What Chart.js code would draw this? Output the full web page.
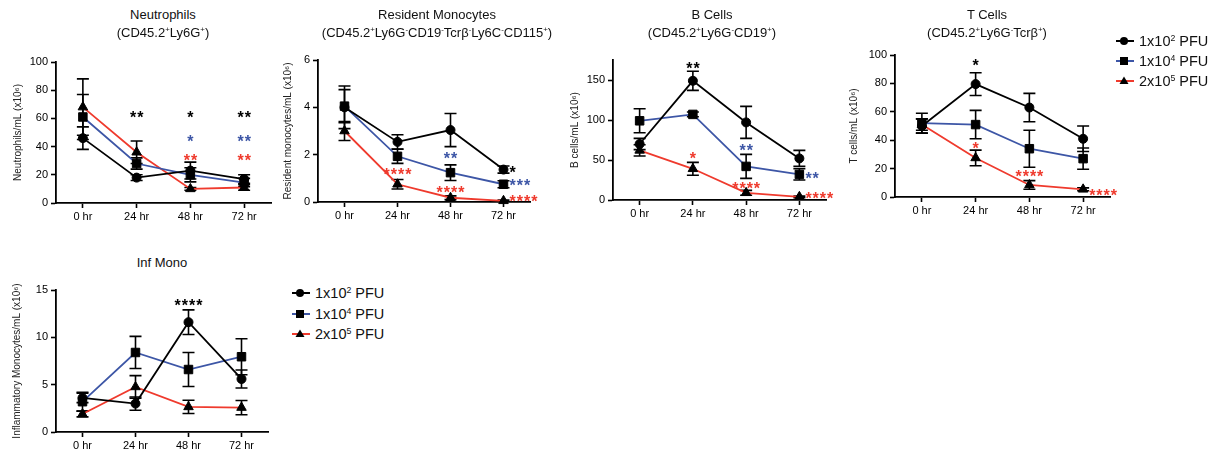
<!DOCTYPE html>
<html><head><meta charset="utf-8">
<script src="https://cdn.jsdelivr.net/npm/chart.js@4.4.1/dist/chart.umd.min.js"></script>
<style>
html,body{margin:0;padding:0;background:#fff;}
body{width:1220px;height:457px;position:relative;overflow:hidden;font-family:'Liberation Sans',Arial,Helvetica,sans-serif;color:#000;}
canvas{position:absolute;}
.t{position:absolute;width:340px;text-align:center;font-size:13px;line-height:16px;white-space:nowrap;color:#111;}
sup{font-size:0.6em;vertical-align:0.6em;line-height:0;}
.lt{position:absolute;font-size:14.5px;line-height:18px;white-space:nowrap;color:#111;}
.ls{position:absolute;}
</style></head><body>
<canvas id="c1"></canvas><canvas id="c2"></canvas><canvas id="c3"></canvas><canvas id="c4"></canvas><canvas id="c5"></canvas>
<div id="titles"></div><div id="legends"></div>
<script>
// ---------- data ----------
const categories = ['0 hr', '24 hr', '48 hr', '72 hr'];
const seriesNames = ['1x10<sup>2</sup> PFU', '1x10<sup>4</sup> PFU', '2x10<sup>5</sup> PFU'];

// Neutrophils
const neutrophilsLow = [46, 18, 23, 17];
const neutrophilsLowErr = [8, 2, 6, 3];
const neutrophilsMid = [61, 28, 20, 14.5];
const neutrophilsMidErr = [16, 4, 5, 3];
const neutrophilsHigh = [68, 36, 10, 11];
const neutrophilsHighErr = [20, 8, 1, 2];
const neutrophilsStars = [[1, 63, '**', 0, 'c'], [2, 63, '*', 0, 'c'], [2, 46, '*', 1, 'c'], [2, 33, '**', 2, 'c'], [3, 63, '**', 0, 'c'], [3, 46, '**', 1, 'c'], [3, 33, '**', 2, 'c']];

// Resident monocytes
const residentLow = [4.0, 2.54, 3.04, 1.37];
const residentLowErr = [0.9, 0.3, 0.7, 0.15];
const residentMid = [4.05, 1.93, 1.24, 0.75];
const residentMidErr = [0.7, 0.3, 0.33, 0.15];
const residentHigh = [3.0, 0.75, 0.18, 0.05];
const residentHighErr = [0.4, 0.2, 0.08, 0.03];
const residentStars = [[1, 1.31, '****', 2, 'c'], [2, 2.0, '**', 1, 'c'], [2, 0.56, '****', 2, 'c'], [3, 1.4, '*', 0, 'r'], [3, 0.85, '***', 1, 'r'], [3, 0.2, '****', 2, 'r']];

// B cells
const bLow = [70, 149, 97, 52];
const bLowErr = [7, 12, 20, 10];
const bMid = [99, 107, 42, 32];
const bMidErr = [15, 3, 15, 7];
const bHigh = [62, 39, 9, 4];
const bHighErr = [7, 8, 3, 1];
const bStars = [[1, 169, '**', 0, 'c'], [1, 56, '*', 2, 'c'], [2, 66, '**', 1, 'c'], [2, 19.5, '****', 2, 'c'], [3, 32, '**', 1, 'r'], [3, 6, '****', 2, 'r']];

// T cells
const tLow = [50, 79.5, 63, 41];
const tLowErr = [5, 8, 10, 9];
const tMid = [52, 51, 34, 27];
const tMidErr = [7, 10, 13, 7.5];
const tHigh = [51, 27.5, 8.5, 5.4];
const tHighErr = [4, 5.5, 3, 1];
const tStars = [[1, 95, '*', 0, 'c'], [1, 37, '*', 2, 'c'], [2, 17, '****', 2, 'c'], [3, 4, '****', 2, 'r']];

// Inflammatory monocytes
const infLow = [3.6, 3.0, 11.6, 5.6];
const infLowErr = [0.5, 0.7, 1.3, 0.95];
const infMid = [3.2, 8.4, 6.6, 7.95];
const infMidErr = [1.0, 1.7, 1.8, 1.9];
const infHigh = [1.9, 4.76, 2.65, 2.58];
const infHighErr = [0.3, 1.2, 0.7, 0.75];
const infStars = [[2, 13.8, '****', 0, 'c']];

// ---------- styling ----------
const FONT = "'Liberation Sans', Arial, Helvetica, sans-serif";
const colors = ['#000000', '#3d56a6', '#ef3a2d'];
const pStyles = ['circle', 'rect', 'triangle'];
const pRadii = [4.5, 6, 5.5];

const extrasPlugin = {
  id: 'extras',
  beforeDatasetsDraw(chart) {
    const ctx = chart.ctx, xs = chart.scales.x, ys = chart.scales.y;
    ctx.save();
    ctx.strokeStyle = '#000'; ctx.lineWidth = 1.6;
    chart.data.datasets.forEach(ds => {
      ds.data.forEach((v, i) => {
        const e = ds.errors[i];
        const px = xs.getPixelForValue(i);
        const top = ys.getPixelForValue(v + e);
        const bot = ys.getPixelForValue(Math.max(v - e, ys.min));
        ctx.beginPath();
        ctx.moveTo(px, top); ctx.lineTo(px, bot);
        ctx.moveTo(px - 6, top); ctx.lineTo(px + 6, top);
        ctx.moveTo(px - 6, bot); ctx.lineTo(px + 6, bot);
        ctx.stroke();
      });
    });
    ctx.restore();
  },
  afterDraw(chart) {
    const stars = chart.options.plugins.extras.stars || [];
    const ctx = chart.ctx, xs = chart.scales.x, ys = chart.scales.y;
    ctx.save();
    const size = 16;
    ctx.font = 'bold ' + size + 'px ' + FONT;
    ctx.letterSpacing = '1px';
    ctx.textBaseline = 'alphabetic';
    stars.forEach(s => {
      let px = xs.getPixelForValue(s[0]);
      const py = ys.getPixelForValue(s[1]) + 0.58 * size;
      ctx.fillStyle = colors[s[3]];
      if (s[4] === 'r') { ctx.textAlign = 'left'; px += 6; }
      else { ctx.textAlign = 'center'; px += 0.5; }
      ctx.fillText(s[2], px, py);
    });
    ctx.restore();
  }
};

function makePanel(id, box, area, ymax, ystep, ytitle, titlePad, series, errs, stars, tickFilter) {
  const cv = document.getElementById(id);
  cv.width = box.w; cv.height = box.h;
  cv.style.left = box.x + 'px'; cv.style.top = box.y + 'px';
  cv.style.width = box.w + 'px'; cv.style.height = box.h + 'px';
  const yW = area.l - box.x;
  const xH = box.y + box.h - area.b;
  new Chart(cv, {
    type: 'line',
    data: {
      labels: categories,
      datasets: series.map((d, k) => ({
        data: d, errors: errs[k],
        borderColor: colors[k], borderWidth: 1.8,
        pointStyle: pStyles[k], pointRadius: pRadii[k],
        pointBackgroundColor: '#000', pointBorderColor: '#000', pointBorderWidth: 1,
        tension: 0, clip: false, fill: false
      }))
    },
    options: {
      responsive: false, animation: false, devicePixelRatio: 1,
      layout: { padding: { left: 0, top: area.t - box.y, right: box.x + box.w - area.r, bottom: 0 } },
      plugins: { legend: { display: false }, tooltip: { enabled: false }, extras: { stars } },
      scales: {
        x: {
          type: 'category', offset: true,
          grid: { offset: false, drawOnChartArea: false, drawTicks: true, tickLength: 5, tickWidth: 1.6, tickColor: '#000' },
          border: { color: '#000', width: 1.8 },
          ticks: { font: { family: FONT, size: 11 }, color: '#000', padding: 2, maxRotation: 0, autoSkip: false },
          afterFit: s => { s.height = xH; }
        },
        y: {
          min: 0, max: ymax,
          grid: { drawOnChartArea: false, drawTicks: true, tickLength: 5, tickWidth: 1.6, tickColor: '#000' },
          border: { color: '#000', width: 1.8 },
          ticks: { stepSize: ystep, font: { family: FONT, size: 11 }, color: '#000', padding: 3 },
          title: { display: true, text: ytitle, color: '#222', font: { family: FONT, size: 10 }, padding: { top: titlePad, bottom: 0 } },
          afterBuildTicks: s => { if (tickFilter) s.ticks = s.ticks.filter(t => t.value % tickFilter === 0); },
          afterFit: s => { s.width = yW; }
        }
      }
    },
    plugins: [extrasPlugin]
  });
}

makePanel('c1', { x: 0, y: 45, w: 285, h: 185 }, { l: 56, r: 271, t: 62, b: 203 }, 100, 20,
  'Neutrophils/mL (x10⁶)', 12,
  [neutrophilsLow, neutrophilsMid, neutrophilsHigh], [neutrophilsLowErr, neutrophilsMidErr, neutrophilsHighErr], neutrophilsStars);
makePanel('c2', { x: 270, y: 45, w: 280, h: 185 }, { l: 318, r: 530, t: 60, b: 202 }, 6, 2,
  'Resident monocytes/mL (x10⁶)', 12,
  [residentLow, residentMid, residentHigh], [residentLowErr, residentMidErr, residentHighErr], residentStars);
makePanel('c3', { x: 560, y: 45, w: 285, h: 185 }, { l: 613, r: 826, t: 60, b: 200 }, 175, 25,
  'B cells/mL (x10⁶)', 9,
  [bLow, bMid, bHigh], [bLowErr, bMidErr, bHighErr], bStars, 50);
makePanel('c4', { x: 840, y: 40, w: 285, h: 185 }, { l: 895, r: 1110, t: 55, b: 197 }, 100, 20,
  'T cells/mL (x10⁶)', 8,
  [tLow, tMid, tHigh], [tLowErr, tMidErr, tHighErr], tStars);
makePanel('c5', { x: 0, y: 275, w: 285, h: 182 }, { l: 56, r: 268, t: 290, b: 432 }, 15, 5,
  'Inflammatory Monocytes/mL (x10⁶)', 11,
  [infLow, infMid, infHigh], [infLowErr, infMidErr, infHighErr], infStars);

// ---------- titles ----------
const titles = [
  [163, 15, 'Neutrophils'], [163, 33, '(CD45.2<sup>+</sup>Ly6G<sup>+</sup>)'],
  [437, 15, 'Resident Monocytes'], [437, 33, '(CD45.2<sup>+</sup>Ly6G<sup>-</sup>CD19<sup>-</sup>Tcrβ<sup>-</sup>Ly6C<sup>-</sup>CD115<sup>+</sup>)'],
  [712, 15, 'B Cells'], [712, 33, '(CD45.2<sup>+</sup>Ly6G<sup>-</sup>CD19<sup>+</sup>)'],
  [987, 15, 'T Cells'], [987, 33, '(CD45.2<sup>+</sup>Ly6G<sup>-</sup>Tcrβ<sup>+</sup>)'],
  [162, 263, 'Inf Mono']
];
const tdiv = document.getElementById('titles');
titles.forEach(t => {
  const d = document.createElement('div');
  d.className = 't';
  d.style.left = (t[0] - 170) + 'px';
  d.style.top = (t[1] - 8) + 'px';
  d.innerHTML = t[2];
  tdiv.appendChild(d);
});

// ---------- legends ----------
function marker(k, cx, cy) {
  if (k === 0) return `<circle cx="${cx}" cy="${cy}" r="4" fill="#000"/>`;
  if (k === 1) return `<rect x="${cx - 4}" y="${cy - 4}" width="8" height="8" fill="#000"/>`;
  return `<polygon points="${cx},${cy - 4.5} ${cx + 4.5},${cy + 3} ${cx - 4.5},${cy + 3}" fill="#000"/>`;
}
function legend(x0, rows) {
  const ld = document.getElementById('legends');
  rows.forEach((cy, k) => {
    const s = document.createElementNS('http://www.w3.org/2000/svg', 'svg');
    s.setAttribute('class', 'ls');
    s.setAttribute('width', '22'); s.setAttribute('height', '14');
    s.style.left = x0 + 'px'; s.style.top = (cy - 7) + 'px';
    s.innerHTML = `<line x1="1" y1="7" x2="19" y2="7" stroke="${colors[k]}" stroke-width="2"/>` + marker(k, 9, 7);
    ld.appendChild(s);
    const t = document.createElement('div');
    t.className = 'lt';
    t.style.left = (x0 + 24) + 'px';
    t.style.top = (cy - 9) + 'px';
    t.innerHTML = seriesNames[k];
    ld.appendChild(t);
  });
}
legend(1115, [41, 61, 81]);
legend(291, [293, 314, 334]);
</script>
</body></html>
